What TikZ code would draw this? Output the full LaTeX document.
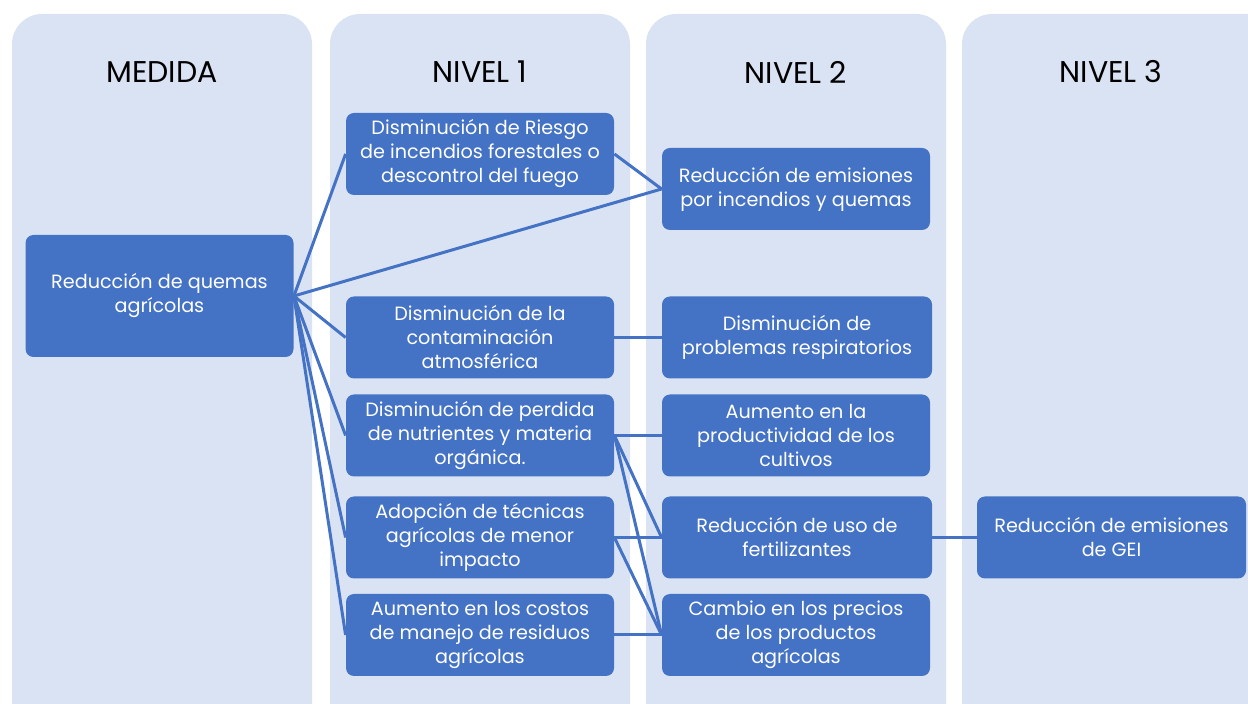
\documentclass[tikz,border=0pt]{standalone}
\usepackage{fontspec}
\setmainfont{Poppins}
\definecolor{boxblue}{HTML}{4472C4}
\definecolor{colbg}{HTML}{DAE3F3}
\tikzset{
  column/.style={fill=colbg, rounded corners=15pt},
  header/.style={font=\fontsize{15}{17}\selectfont},
  box/.style={fill=boxblue, rounded corners=4pt, text=white, align=center,
    minimum width=134pt, minimum height=41pt, inner sep=2pt,
    font=\fontsize{9.6}{12}\selectfont},
  link/.style={draw=boxblue, line width=1.5pt},
}
\begin{document}
\begin{tikzpicture}[x=0.5pt,y=-0.5pt]
      \useasboundingbox (0,0) rectangle (1248,704);
      \clip (0,0) rectangle (1248,704);
      % columns
      \fill[column] (12,14) rectangle (312,760);
      \fill[column] (330,14) rectangle (630,760);
      \fill[column] (646,14) rectangle (946,760);
      \fill[column] (962,14) rectangle (1290,760);
      \draw
        (162,72) node[header] (h0){MEDIDA}
        (480,72) node[header] (h1){NIVEL 1}
        (796,72) node[header] (h2){NIVEL 2}
        (1111,72) node[header] (h3){NIVEL 3};
      % medida
      \node[box, minimum height=61pt] (m) at (159.5,296) {Reducción de quemas\\agrícolas};
      % nivel 1
      \node[box] (a1) at (480,154) {Disminución de Riesgo\\de incendios forestales o\\descontrol del fuego};
      \node[box] (b1) at (480,337.5) {Disminución de la\\contaminación\\atmosférica};
      \node[box] (c1) at (480,435.5) {Disminución de perdida\\de nutrientes y materia\\orgánica.};
      \node[box] (d1) at (480,537.5) {Adopción de técnicas\\agrícolas de menor\\impacto};
      \node[box] (e1) at (480,635) {Aumento en los costos\\de manejo de residuos\\agrícolas};
      % nivel 2
      \node[box] (a2) at (796,189) {Reducción de emisiones\\por incendios y quemas};
      \node[box, minimum width=135pt] (b2) at (797,337.5) {Disminución de\\problemas respiratorios};
      \node[box] (c2) at (796,435.5) {Aumento en la\\productividad de los\\cultivos};
      \node[box, minimum width=135pt] (d2) at (797,537.5) {Reducción de uso de\\fertilizantes};
      \node[box] (e2) at (796,635) {Cambio en los precios\\de los productos\\agrícolas};
      % nivel 3
      \node[box, minimum width=134.5pt] (a3) at (1111.5,537.5) {Reducción de emisiones\\de GEI};
      \begin{scope}[link]
        \draw (m.east) to (a1.west);
        \draw (m.east) to (a2.west);
        \draw (m.east) to (b1.west);
        \draw (m.east) to (c1.west);
        \draw (m.east) to (d1.west);
        \draw (m.east) to (e1.west);
        \draw (a1.east) to (a2.west);
        \draw (b1.east) to (b2.west);
        \draw (c1.east) to (c2.west);
        \draw (c1.east) to (d2.west);
        \draw (c1.east) to (e2.west);
        \draw (d1.east) to (d2.west);
        \draw (d1.east) to (e2.west);
        \draw (e1.east) to (e2.west);
        \draw (d2.east) to (a3.west);
      \end{scope}
    \end{tikzpicture}
\end{document}
